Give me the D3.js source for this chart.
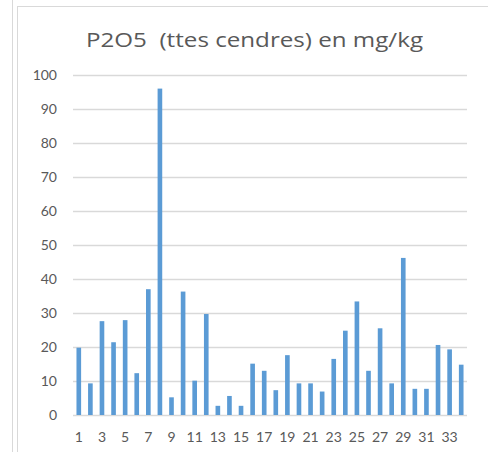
<html>
<script src="https://d3js.org/d3.v7.min.js"></script>
<style>
body {margin: 0; background: white;}
text {font-family: Lato, "Open Sans", sans-serif; fill: #595959;}
</style>
<div id="chart"></div>
<script>
// sample numbers 1..34 and P2O5 values
var categories = d3.range(1, 35).map(String);
var values = [19.8, 9.3, 27.6, 21.4, 27.9, 12.3, 37.0, 96.0, 5.2, 36.3,
              10.1, 29.7, 2.7, 5.6, 2.7, 15.1, 13.0, 7.3, 17.6, 9.3,
              9.3, 6.9, 16.5, 24.8, 33.4, 13.0, 25.5, 9.3, 46.2, 7.7,
              7.7, 20.6, 19.3, 14.8];
var yTicks = [0, 10, 20, 30, 40, 50, 60, 70, 80, 90, 100];
var title = "P2O5  (ttes cendres) en mg/kg";

var W = 488, H = 452;
var plot = {left: 73, right: 467, top: 75, bottom: 415};

var svg = d3.select("#chart").append("svg")
    .attr("width", W)
    .attr("height", H);

// frame lines of the chart area
svg.append("line").attr("x1", 12.5).attr("x2", 12.5).attr("y1", 0).attr("y2", H)
    .style("stroke", "#d9d9d9");
svg.append("line").attr("x1", 17.5).attr("x2", 17.5).attr("y1", 6).attr("y2", H)
    .style("stroke", "#d9d9d9");
svg.append("line").attr("x1", 17.5).attr("x2", W).attr("y1", 6.5).attr("y2", 6.5)
    .style("stroke", "#d9d9d9");

var x = d3.scaleBand()
    .domain(categories)
    .range([plot.left, plot.right])
    .paddingInner(0.6)
    .paddingOuter(0.3);

var y = d3.scaleLinear()
    .domain([0, 100])
    .range([plot.bottom, plot.top]);

// gridlines
svg.append("g")
  .selectAll("line")
  .data(yTicks)
  .enter()
  .append("line")
    .attr("x1", plot.left)
    .attr("x2", plot.right)
    .attr("y1", function(d) { return Math.round(y(d)) + 0.5; })
    .attr("y2", function(d) { return Math.round(y(d)) + 0.5; })
    .style("stroke", "#d9d9d9")
    .style("stroke-width", 1.3);

// y labels
svg.append("g")
  .selectAll("text")
  .data(yTicks)
  .enter()
  .append("text")
    .attr("x", 57)
    .attr("y", function(d) { return y(d); })
    .attr("dy", "0.36em")
    .attr("text-anchor", "end")
    .style("font-size", "14px")
    .text(function(d) { return d; });

// bars
svg.append("g")
  .selectAll("rect")
  .data(values)
  .enter()
  .append("rect")
    .attr("x", function(d, i) { return x(categories[i]); })
    .attr("width", x.bandwidth())
    .attr("y", function(d) { return y(d); })
    .attr("height", function(d) { return y(0) - y(d); })
    .style("fill", "#5b9bd5");

// x labels, every other one
svg.append("g")
  .selectAll("text")
  .data(categories.filter(function(d, i) { return i % 2 == 0; }))
  .enter()
  .append("text")
    .attr("x", function(d) { return x(d) + x.bandwidth() / 2; })
    .attr("y", 442)
    .attr("text-anchor", "middle")
    .style("font-size", "14px")
    .text(function(d) { return d; });

svg.append("text")
    .attr("x", 86)
    .attr("y", 47)
    .attr("textLength", 337)
    .attr("lengthAdjust", "spacingAndGlyphs")
    .style("white-space", "pre")
    .style("font-family", "'Open Sans', sans-serif")
    .style("font-size", "20px")
    .text(title);
</script>
</html>
